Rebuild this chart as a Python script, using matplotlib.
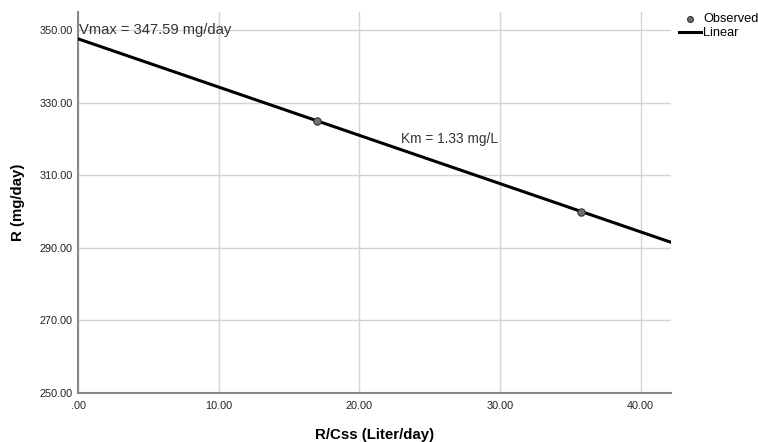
import numpy as np
import matplotlib
matplotlib.use("Agg")
import matplotlib.pyplot as plt

plt.rcParams["font.family"] = ["Liberation Sans", "DejaVu Sans"]

# observed points (R/Css, R)
obs_x = [17.0, 35.75]
obs_y = [325.0, 300.0]

vmax = 347.59
km = 1.33

x_ticks = [0, 10, 20, 30, 40]
x_tick_labels = [".00", "10.00", "20.00", "30.00", "40.00"]
y_ticks = [250, 270, 290, 310, 330, 350]
y_tick_labels = ["250.00", "270.00", "290.00", "310.00", "330.00", "350.00"]

fig = plt.figure(figsize=(7.58, 4.42), dpi=100)
ax = fig.add_axes([0.103, 0.111, 0.782, 0.862])

xlim = (0, 42.15)
ax.set_xlim(*xlim)
ax.set_ylim(250, 355)

ax.grid(True, color="#d4d4d4", linewidth=1.0)
ax.set_axisbelow(True)

xs = np.array(xlim)
line, = ax.plot(xs, vmax - km * xs, color="black", linewidth=2.2, label="Linear", zorder=3)
pts = ax.scatter(obs_x, obs_y, s=28, facecolor="#707070", edgecolor="#333333",
                 linewidth=0.8, zorder=4, label="Observed")

ax.set_xticks(x_ticks)
ax.set_xticklabels(x_tick_labels)
ax.set_yticks(y_ticks)
ax.set_yticklabels(y_tick_labels)
ax.tick_params(axis="x", length=0, labelsize=7.8, colors="#222222", pad=6)
ax.tick_params(axis="y", length=0, labelsize=7.8, colors="#222222", pad=4)

for s in ["top", "right"]:
    ax.spines[s].set_visible(False)
for s in ["left", "bottom"]:
    ax.spines[s].set_color("#888888")
    ax.spines[s].set_linewidth(1.5)

ax.set_xlabel("R/Css (Liter/day)", fontsize=10.8, fontweight="bold", labelpad=12)
ax.set_ylabel("R (mg/day)", fontsize=10.8, fontweight="bold", labelpad=10)

ax.text(0.1, 350, f"Vmax = {vmax:.2f} mg/day", fontsize=10.6, color="#333333",
        va="center", ha="left")
ax.text(22.95, 320.1, f"Km = {km:.2f} mg/L", fontsize=9.9, color="#333333",
        va="center", ha="left")

fig.legend(handles=[pts, line], labels=["Observed", "Linear"],
           loc="upper left", bbox_to_anchor=(0.884, 0.99), frameon=False,
           fontsize=9.2, handlelength=1.7, handletextpad=0.2, labelspacing=0.15,
           borderpad=0.2, markerscale=0.8)

fig.savefig("out.png", dpi=100)
